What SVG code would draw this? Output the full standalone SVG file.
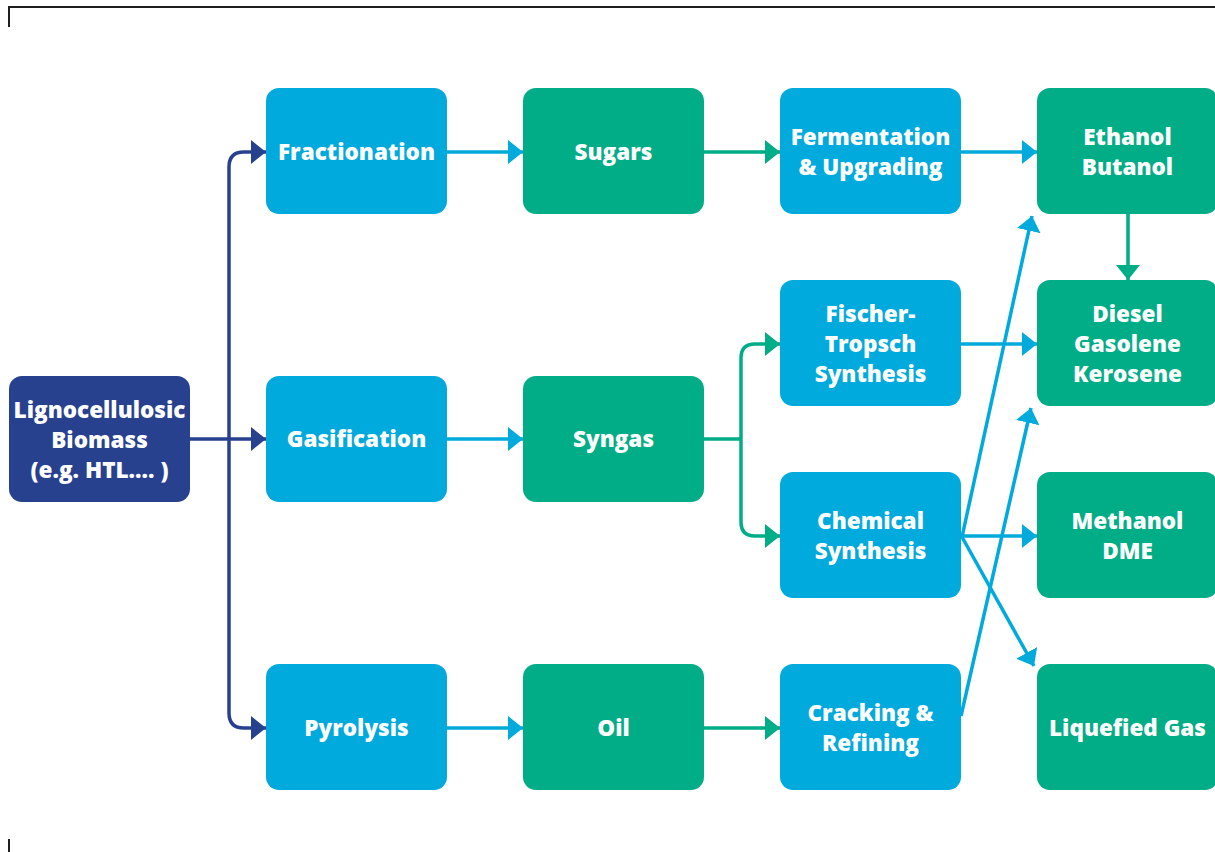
<svg xmlns="http://www.w3.org/2000/svg" width="1215" height="852" viewBox="0 0 1215 852">
<style>
.bg{fill:#ffffff}
.frame{stroke:#1e1e1e;stroke-width:2;fill:none}
.dark{fill:#28418f}
.blue{fill:#00aadc}
.green{fill:#00ad86}
.t{font-family:"Open Sans","Liberation Sans",sans-serif;font-weight:800;font-size:22.5px;fill:#ffffff;text-anchor:middle}
.cd{stroke:#28418f;stroke-width:3.5;fill:none}
.cb{stroke:#00aadc;stroke-width:3.5;fill:none}
.cg{stroke:#00ad86;stroke-width:3.5;fill:none}
</style>
<defs>
<marker id="ad" markerUnits="userSpaceOnUse" markerWidth="16" markerHeight="26" refX="15" refY="12" orient="auto" viewBox="0 0 16 26"><path d="M0,0 L15,12 L0,24 Z" fill="#28418f"/></marker>
<marker id="ab" markerUnits="userSpaceOnUse" markerWidth="16" markerHeight="26" refX="15" refY="12" orient="auto" viewBox="0 0 16 26"><path d="M0,0 L15,12 L0,24 Z" fill="#00aadc"/></marker>
<marker id="ag" markerUnits="userSpaceOnUse" markerWidth="16" markerHeight="26" refX="15" refY="12" orient="auto" viewBox="0 0 16 26"><path d="M0,0 L15,12 L0,24 Z" fill="#00ad86"/></marker>
</defs>
<rect class="bg" x="0" y="0" width="1215" height="852"/>
<path class="frame" d="M9,27 V7 H1215"/>
<path class="frame" d="M9,839 V852"/>

<g id="connectors">
<path class="cd" d="M229,439 V167 Q229,152 244,152 H266" marker-end="url(#ad)"/>
<path class="cd" d="M229,439 V713 Q229,728 244,728 H266" marker-end="url(#ad)"/>
<path class="cd" d="M190,439 H266" marker-end="url(#ad)"/>
<path class="cb" d="M447,152 H523" marker-end="url(#ab)"/>
<path class="cg" d="M704,152 H780" marker-end="url(#ag)"/>
<path class="cb" d="M961,152 H1037" marker-end="url(#ab)"/>
<path class="cg" d="M1128,214 V280" marker-end="url(#ag)"/>
<path class="cb" d="M447,439 H523" marker-end="url(#ab)"/>
<path class="cg" d="M704,439 H741"/>
<path class="cg" d="M741,439 V358 Q741,344 755,344 H780" marker-end="url(#ag)"/>
<path class="cg" d="M741,439 V522 Q741,536 755,536 H780" marker-end="url(#ag)"/>
<path class="cb" d="M961,344 H1037" marker-end="url(#ab)"/>
<path class="cb" d="M961,536 H1037" marker-end="url(#ab)"/>
<path class="cb" d="M962,537 L1032,216" marker-end="url(#ab)"/>
<path class="cb" d="M962,537 L1034,666" marker-end="url(#ab)"/>
<path class="cb" d="M961,716 L1031,408" marker-end="url(#ab)"/>
<path class="cb" d="M447,728 H523" marker-end="url(#ab)"/>
<path class="cg" d="M704,728 H780" marker-end="url(#ag)"/>
</g>

<g id="biomass"><rect class="dark" x="9" y="376" width="181" height="126" rx="13"/>
<text class="t" x="99.5" y="418">Lignocellulosic</text><text class="t" x="99.5" y="448">Biomass</text><text class="t" x="99.5" y="478">(e.g. HTL.... )</text></g>

<g id="fractionation"><rect class="blue" x="266" y="88" width="181" height="126" rx="13"/><text class="t" x="356.5" y="160">Fractionation</text></g>
<g id="gasification"><rect class="blue" x="266" y="376" width="181" height="126" rx="13"/><text class="t" x="356.5" y="447">Gasification</text></g>
<g id="pyrolysis"><rect class="blue" x="266" y="664" width="181" height="126" rx="13"/><text class="t" x="356.5" y="736">Pyrolysis</text></g>

<g id="sugars"><rect class="green" x="523" y="88" width="181" height="126" rx="13"/><text class="t" x="613.5" y="160">Sugars</text></g>
<g id="syngas"><rect class="green" x="523" y="376" width="181" height="126" rx="13"/><text class="t" x="613.5" y="447">Syngas</text></g>
<g id="oil"><rect class="green" x="523" y="664" width="181" height="126" rx="13"/><text class="t" x="613.5" y="736">Oil</text></g>

<g id="fermentation"><rect class="blue" x="780" y="88" width="181" height="126" rx="13"/><text class="t" x="870.5" y="145">Fermentation</text><text class="t" x="870.5" y="175">&amp; Upgrading</text></g>
<g id="fischer"><rect class="blue" x="780" y="280" width="181" height="126" rx="13"/><text class="t" x="870.5" y="322">Fischer-</text><text class="t" x="870.5" y="352">Tropsch</text><text class="t" x="870.5" y="382">Synthesis</text></g>
<g id="chemical"><rect class="blue" x="780" y="472" width="181" height="126" rx="13"/><text class="t" x="870.5" y="529">Chemical</text><text class="t" x="870.5" y="559">Synthesis</text></g>
<g id="cracking"><rect class="blue" x="780" y="664" width="181" height="126" rx="13"/><text class="t" x="870.5" y="721">Cracking &amp;</text><text class="t" x="870.5" y="751">Refining</text></g>

<g id="ethanol"><rect class="green" x="1037" y="88" width="181" height="126" rx="13"/><text class="t" x="1127.5" y="145">Ethanol</text><text class="t" x="1127.5" y="175">Butanol</text></g>
<g id="diesel"><rect class="green" x="1037" y="280" width="181" height="126" rx="13"/><text class="t" x="1127.5" y="322">Diesel</text><text class="t" x="1127.5" y="352">Gasolene</text><text class="t" x="1127.5" y="382">Kerosene</text></g>
<g id="methanol"><rect class="green" x="1037" y="472" width="181" height="126" rx="13"/><text class="t" x="1127.5" y="529">Methanol</text><text class="t" x="1127.5" y="559">DME</text></g>
<g id="liquefied"><rect class="green" x="1037" y="664" width="181" height="126" rx="13"/><text class="t" x="1127.5" y="736">Liquefied Gas</text></g>
</svg>
